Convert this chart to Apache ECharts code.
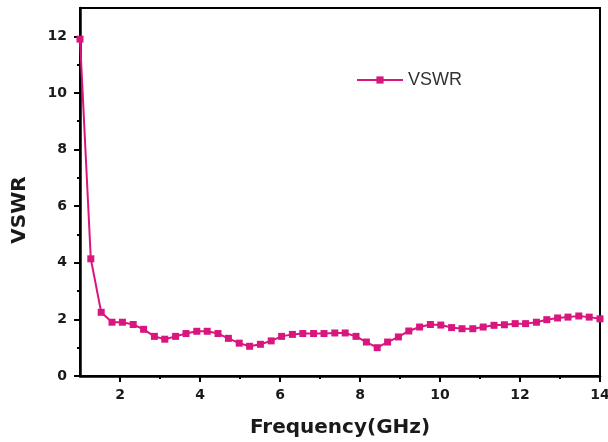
<!DOCTYPE html>
<html>
<head>
<meta charset="utf-8">
<script src="https://cdn.jsdelivr.net/npm/echarts@6/dist/echarts.min.js"></script>
<style>
    html, body { margin: 0; padding: 0; background: #fff; }
    #chart { width: 608px; height: 442px; }
</style>
</head>
<body>
<div id="chart"></div>
<script>
// frequency (GHz) and VSWR
var freq = [1.00, 1.27, 1.53, 1.80, 2.06, 2.33, 2.59, 2.86, 3.12, 3.39,
    3.65, 3.92, 4.18, 4.45, 4.71, 4.98, 5.24, 5.51, 5.78, 6.04,
    6.31, 6.57, 6.84, 7.10, 7.37, 7.63, 7.90, 8.16, 8.43, 8.69,
    8.96, 9.22, 9.49, 9.76, 10.02, 10.29, 10.55, 10.82, 11.08, 11.35,
    11.61, 11.88, 12.14, 12.41, 12.67, 12.94, 13.20, 13.47, 13.73, 14.00];
var vswr = [11.9, 4.14, 2.25, 1.90, 1.90, 1.82, 1.65, 1.40, 1.30, 1.40,
    1.50, 1.58, 1.58, 1.50, 1.33, 1.16, 1.05, 1.12, 1.24, 1.40,
    1.47, 1.50, 1.50, 1.50, 1.52, 1.52, 1.40, 1.20, 1.00, 1.20,
    1.38, 1.59, 1.73, 1.82, 1.80, 1.71, 1.67, 1.67, 1.73, 1.79,
    1.81, 1.85, 1.85, 1.90, 1.99, 2.05, 2.08, 2.12, 2.08, 2.02];
var xMajor = [2, 4, 6, 8, 10, 12, 14];
var xMinor = [3, 5, 7, 9, 11, 13];
var yMajor = [0, 2, 4, 6, 8, 10, 12];
var yMinor = [1, 3, 5, 7, 9, 11];

var chart = echarts.init(document.getElementById('chart'));

var labelFont = {
    fontFamily: 'DejaVu Sans',
    fontWeight: 'bold',
    fontSize: 14,
    color: '#1a1a1a'
};

function nameFont(pad) {
    return {
        fontFamily: 'DejaVu Sans',
        fontWeight: 'bold',
        fontSize: 20,
        color: '#1a1a1a',
        padding: pad
    };
}

function points() {
    var arr = [];
    for (var i = 0; i < freq.length; i++) {
        arr.push([freq[i], vswr[i]]);
    }
    return arr;
}

var option = {
    backgroundColor: '#fff',
    animation: false,
    grid: {
        left: 80, right: 8, top: 8, bottom: 66,
        outerBoundsMode: 'none',
        show: true,
        borderColor: '#000',
        borderWidth: 2
    },
    legend: {
        left: 351,
        top: 66,
        itemWidth: 46,
        itemHeight: 9,
        itemGap: 6,
        data: ['VSWR'],
        textStyle: { fontFamily: 'Liberation Sans', fontSize: 18, color: '#333' }
    },
    xAxis: [{
        type: 'value',
        min: 1, max: 14,
        position: 'bottom',
        name: 'Frequency(GHz)',
        nameLocation: 'middle',
        nameGap: 42,
        nameTextStyle: nameFont(0),
        axisLine: { show: true, lineStyle: { color: '#000', width: 2.5 } },
        axisTick: { show: true, customValues: xMajor, length: 6, lineStyle: { color: '#000', width: 2 } },
        axisLabel: Object.assign({ customValues: xMajor, margin: 12 }, labelFont),
        splitLine: { show: false }
    }, {
        type: 'value',
        min: 1, max: 14,
        position: 'bottom',
        axisLine: { show: false },
        axisTick: { show: true, customValues: xMinor, length: 3, lineStyle: { color: '#000', width: 2 } },
        axisLabel: { show: false },
        splitLine: { show: false }
    }],
    yAxis: [{
        type: 'value',
        min: 0, max: 13,
        position: 'left',
        name: 'VSWR',
        nameLocation: 'middle',
        nameGap: 50,
        nameRotate: 90,
        nameTextStyle: nameFont([0, 36, 0, 0]),
        axisLine: { show: true, lineStyle: { color: '#000', width: 2.5 } },
        axisTick: { show: true, customValues: yMajor, length: 6, lineStyle: { color: '#000', width: 2 } },
        axisLabel: Object.assign({ customValues: yMajor, margin: 13 }, labelFont),
        splitLine: { show: false }
    }, {
        type: 'value',
        min: 0, max: 13,
        position: 'left',
        axisLine: { show: false },
        axisTick: { show: true, customValues: yMinor, length: 3, lineStyle: { color: '#000', width: 2 } },
        axisLabel: { show: false },
        splitLine: { show: false }
    }],
    series: [{
        name: 'VSWR',
        type: 'line',
        data: points(),
        symbol: 'rect',
        symbolSize: 7,
        lineStyle: { width: 2, color: '#d8167e' },
        itemStyle: { color: '#d8167e' }
    }]
};

chart.setOption(option);
</script>
</body>
</html>
